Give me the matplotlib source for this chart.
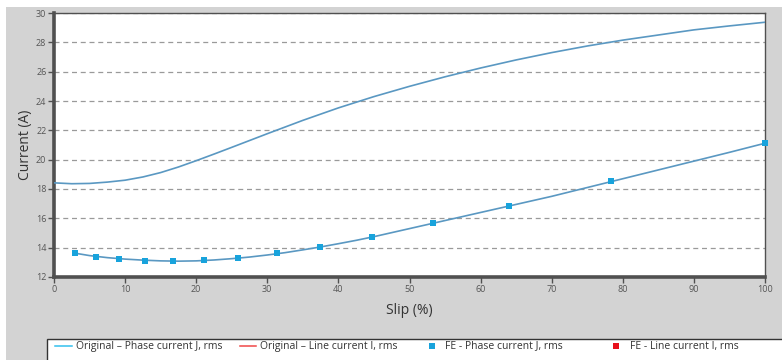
import matplotlib
matplotlib.use("Agg")
import matplotlib.pyplot as plt
from matplotlib.patches import Rectangle
from matplotlib.lines import Line2D

plt.rcParams['font.family'] = ['Open Sans', 'DejaVu Sans']

# Original model: phase current J (rms) versus slip
slip_phase = [3, 5, 7.5, 10, 12.5, 15, 17.5, 20, 22.5, 25, 27.5, 30, 32.5, 35, 37.5, 40, 42.5, 45,
              50, 55, 60, 65, 70, 75, 80, 85, 90, 95, 100]
phase_current = [13.62, 13.46, 13.32, 13.22, 13.15, 13.1, 13.08, 13.1, 13.16, 13.25, 13.36, 13.5,
                 13.66, 13.85, 14.05, 14.27, 14.5, 14.75, 15.3, 15.85, 16.4, 16.95, 17.5, 18.1,
                 18.7, 19.3, 19.9, 20.5, 21.12]

# Original model: upper current curve versus slip
slip_line = [0, 2.5, 5, 7.5, 10, 12.5, 15, 17.5, 20, 22.5, 25, 30, 35, 40, 45, 50, 55, 60, 65, 70,
             75, 80, 85, 90, 95, 100]
line_current = [18.42, 18.36, 18.38, 18.47, 18.6, 18.82, 19.12, 19.5, 19.93, 20.38, 20.84, 21.77,
                22.68, 23.53, 24.3, 25.0, 25.65, 26.25, 26.8, 27.3, 27.75, 28.15, 28.5, 28.85,
                29.12, 29.37]

# FE results: phase current J (rms)
fe_slip = [2.95, 5.9, 9.2, 12.8, 16.7, 21.1, 25.9, 31.4, 37.4, 44.7, 53.3, 64.0, 78.3, 100]
fe_phase = [13.64, 13.38, 13.24, 13.12, 13.08, 13.15, 13.3, 13.62, 14.05, 14.73, 15.68, 16.84, 18.55, 21.12]

x_ticks = [0, 10, 20, 30, 40, 50, 60, 70, 80, 90, 100]
y_ticks = [12, 14, 16, 18, 20, 22, 24, 26, 28, 30]

legend_labels = ["Original \u2013 Phase current J, rms", "Original \u2013 Line current I, rms",
                 "FE - Phase current J, rms", "FE - Line current I, rms"]

W, H = 782, 360
fig = plt.figure(figsize=(W / 100, H / 100), dpi=100, facecolor='white')

# grey panel behind the plot
fig.patches.append(Rectangle((6 / W, 0), 1, (H - 7) / H, transform=fig.transFigure,
                             facecolor='#d3d3d3', edgecolor='none', zorder=-5))

ax = fig.add_axes([54 / W, 83 / H, (765 - 54) / W, (277 - 13) / H])
ax.set_zorder(2)
ax.set_facecolor('white')

curve_color = '#5a98c2'
ax.plot(slip_line, line_current, color=curve_color, lw=1.2, zorder=3)
ax.plot(slip_phase, phase_current, color=curve_color, lw=1.2, zorder=3)
ax.plot(fe_slip, fe_phase, linestyle='none', marker='s', markersize=4.2,
        color='#18a3dc', markeredgewidth=0, zorder=4, clip_on=False)

ax.set_xlim(0, 100)
ax.set_ylim(12, 30)
ax.set_xticks(x_ticks)
ax.set_yticks(y_ticks)
ax.yaxis.grid(True, linestyle=(0, (4, 3)), color='#9a9a9a', lw=0.9)
ax.set_axisbelow(True)

for side in ('left', 'bottom'):
    ax.spines[side].set_linewidth(2.6)
    ax.spines[side].set_color('#505050')
for side in ('top', 'right'):
    ax.spines[side].set_linewidth(1.0)
    ax.spines[side].set_color('#505050')

ax.tick_params(axis='both', direction='out', length=4, width=1, color='#505050',
               labelsize=6.5, labelcolor='#555555', pad=1.5)

ax.set_ylabel("Current (A)", fontsize=10, color='#333333', labelpad=2)
ax.set_xlabel("Slip (%)", fontsize=10, color='#333333', labelpad=7)

# legend box along the bottom
fig.patches.append(Rectangle((47 / W, -0.05), 1, (H - 339) / H + 0.05, transform=fig.transFigure,
                             facecolor='white', edgecolor='#333333', lw=1.0, zorder=1))

ly = (H - 346) / H
handles = [
    dict(kind='line', color='#33c0ee', x0=55, x1=72, tx=76),
    dict(kind='line', color='#f04848', x0=240, x1=256, tx=260),
    dict(kind='marker', color='#18a3dc', x0=432, tx=445),
    dict(kind='marker', color='#e8101c', x0=616, tx=630),
]
for h, lab in zip(handles, legend_labels):
    if h['kind'] == 'line':
        fig.add_artist(Line2D([h['x0'] / W, h['x1'] / W], [ly, ly], transform=fig.transFigure,
                              color=h['color'], lw=1.1, zorder=2))
    else:
        fig.add_artist(Line2D([h['x0'] / W], [ly], transform=fig.transFigure, marker='s',
                              markersize=4, markeredgewidth=0, color=h['color'],
                              linestyle='none', zorder=2))
    fig.text(h['tx'] / W, ly, lab, fontsize=7.5, color='#333333', va='center', ha='left', zorder=3)

fig.savefig("out.png", dpi=100, facecolor=fig.get_facecolor())
